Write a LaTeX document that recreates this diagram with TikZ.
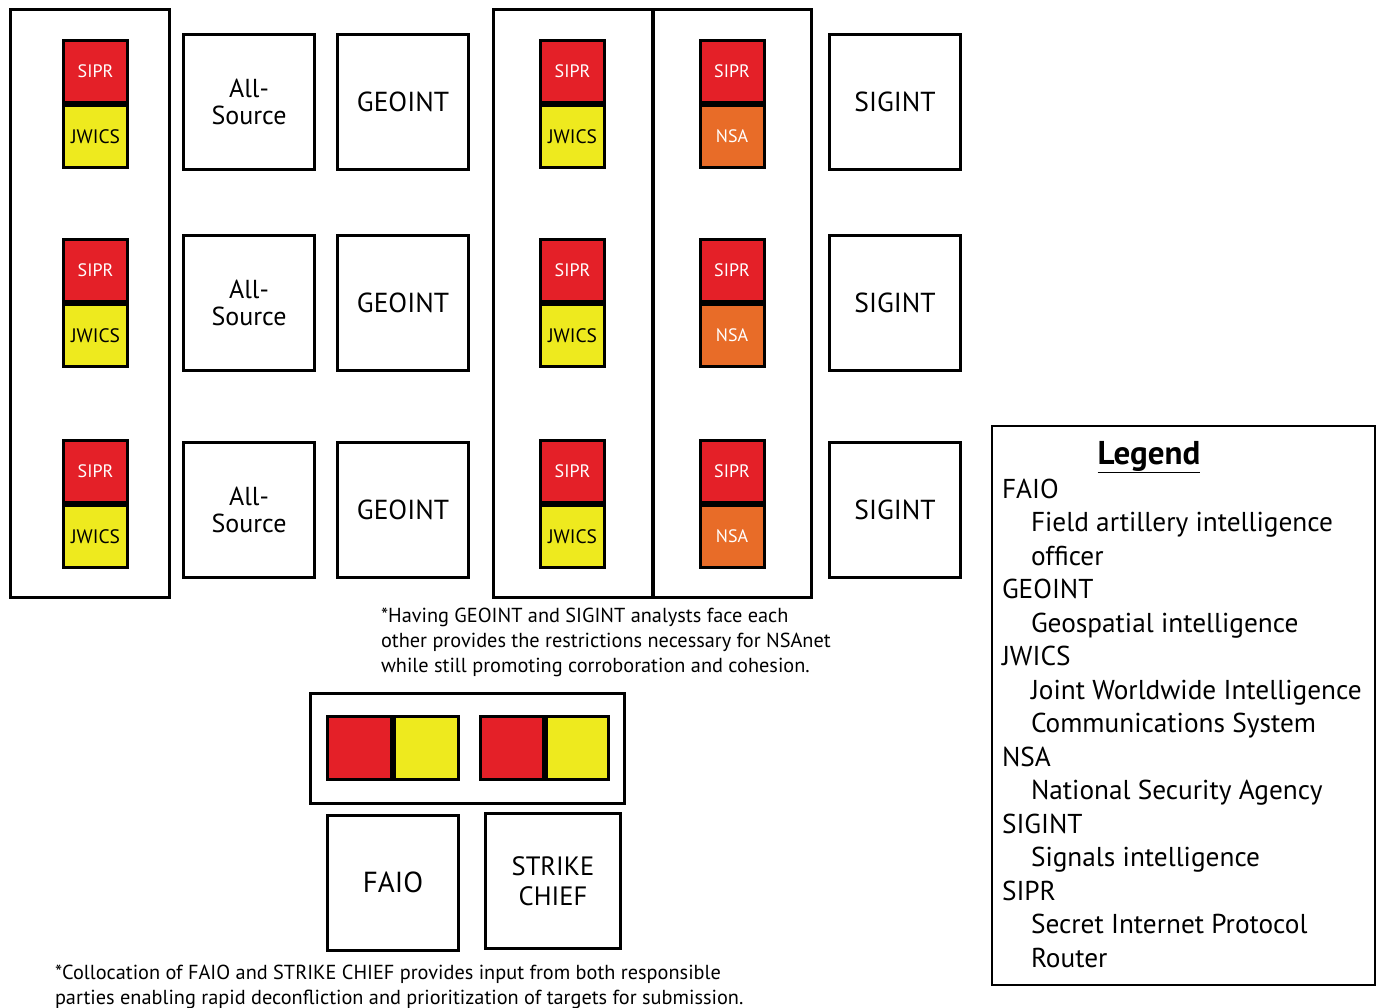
\documentclass[tikz,border=0pt]{standalone}
\usepackage{fontspec}
\setmainfont{PT Sans}
\definecolor{siprred}{RGB}{228,32,40}
\definecolor{jwicsyellow}{RGB}{238,234,30}
\definecolor{nsaorange}{RGB}{232,108,40}

\begin{document}
\begin{tikzpicture}[x=1pt,y=-1pt,inner sep=0pt,outer sep=0pt,line width=3pt,
	box/.style={draw,minimum width=131pt,minimum height=135pt,align=center},
	cell/.style={draw,minimum width=64pt,minimum height=62pt,font=\fontsize{18}{18}\selectfont},
	sipr/.style={cell,fill=siprred,text=white},
	jwics/.style={cell,fill=jwicsyellow,font=\fontsize{19.5}{20}\selectfont},
	nsa/.style={cell,fill=nsaorange,text=white},
	frame/.style={draw,minimum width=#1},
	note/.style={anchor=north west,align=left,font=\fontsize{20.3}{25}\selectfont}]
	\useasboundingbox (0,0) rectangle (1380,1008);
	% racks
	\node[frame=159pt,minimum height=588pt] (leftrack) at (90,303.5) {};
	\node[frame=318pt,minimum height=588pt] (midrack) at (652.5,303.5) {};
	\draw[line width=4pt] (midrack.north) -- (midrack.south);
	% terminals
	\foreach \t [count=\i] in {39,238,439} {
		\node[sipr]  (ls\i) at (95.5,\t+32.5) {SIPR};
		\node[jwics] (lj\i) at (95.5,\t+97.5) {JWICS};
		\node[sipr]  (ms\i) at (572.5,\t+32.5) {SIPR};
		\node[jwics] (mj\i) at (572.5,\t+97.5) {JWICS};
		\node[sipr]  (ns\i) at (732,\t+32.5) {SIPR};
		\node[nsa]   (nn\i) at (732,\t+97.5) {NSA};
	}
	% analysts
	\foreach \y [count=\i] in {102,303,510} {
		\node[box,font=\fontsize{26}{27}\selectfont] (all\i) at (249,\y) {All-\\Source};
		\node[box,font=\fontsize{27.5}{30}\selectfont] (geo\i) at (403,\y) {GEOINT};
		\node[box,font=\fontsize{27.5}{30}\selectfont] (sig\i) at (895,\y) {SIGINT};
	}
	\node[note] (facenote) at (381,608) {*Having GEOINT and SIGINT analysts face each\\other provides the restrictions necessary for NSAnet\\while still promoting corroboration and cohesion.};
	% fire support cell
	\node[frame=314pt,minimum height=110pt] (firedesk) at (467.5,748.5) {};
	\node[cell,fill=siprred,minimum height=63pt] (fr1) at (359.5,748) {};
	\node[cell,fill=jwicsyellow,minimum height=63pt] (fy1) at (426.5,748) {};
	\node[cell,fill=siprred,minimum width=63pt,minimum height=63pt] (fr2) at (512,748) {};
	\node[cell,fill=jwicsyellow,minimum width=62pt,minimum height=63pt] (fy2) at (577.5,748) {};
	\node[box,font=\fontsize{29}{30}\selectfont] (faio) at (393,882.5) {FAIO};
	\node[box,minimum width=135pt,font=\fontsize{26.5}{30}\selectfont] (strike) at (553,881) {STRIKE\\CHIEF};
	\node[note] (collnote) at (55,965) {*Collocation of FAIO and STRIKE CHIEF provides input from both responsible\\parties enabling rapid deconfliction and prioritization of targets for submission.};
	% legend
	\node[frame=383pt,minimum height=559pt,line width=2pt] (legend) at (1183,705) {};
	\node[font=\fontsize{33}{34}\selectfont] (legendtitle) at (1149,457) {\textbf{\underline{Legend}}};
	\node[anchor=north west,align=left,font=\fontsize{27.3}{33.5}\selectfont] (legendtext) at (1002,479) {FAIO\\\hspace*{29pt}Field artillery intelligence\\\hspace*{29pt}officer\\GEOINT\\\hspace*{29pt}Geospatial intelligence\\JWICS\\\hspace*{29pt}Joint Worldwide Intelligence\\\hspace*{29pt}Communications System\\NSA\\\hspace*{29pt}National Security Agency\\SIGINT\\\hspace*{29pt}Signals intelligence\\SIPR\\\hspace*{29pt}Secret Internet Protocol\\\hspace*{29pt}Router};
\end{tikzpicture}
\end{document}
